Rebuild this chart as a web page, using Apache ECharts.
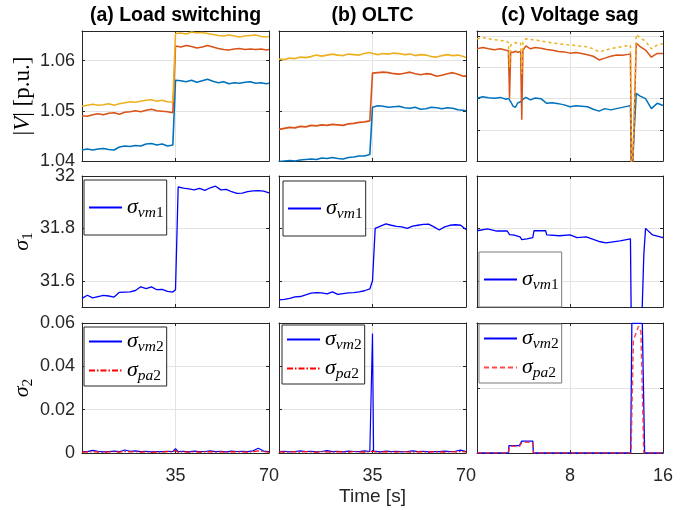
<!DOCTYPE html>
<html>
<head>
<meta charset="utf-8">
<script src="https://cdn.jsdelivr.net/npm/echarts@6.0.0/dist/echarts.min.js"></script>
<style>
  html, body { margin: 0; padding: 0; background: #fff; }
  #main { width: 694px; height: 510px; }
</style>
</head>
<body>
<div id="main"></div>
<script>
// ---- data ----
// time bases, columns (a) and (b)
var tAB = [0,2,4,6,8,10,12,14,16,18,20,22,24,26,28,30,32,34,35,37,39,41,43,45,47,49,51,53,55,57,59,61,63,65,67,69,70];
var tS1 = [0,2,4,6,8,10,12,14,16,18,20,22,24,26,28,30,32,34,35,36,38,40,42,44,46,48,50,52,54,56,58,60,62,64,66,68,70];
var tS2 = [0,2,4,6,8,10,12,14,16,18,20,22,24,26,28,30,32,34,34.6,35,35.4,36,38,40,42,44,46,48,50,52,54,56,58,60,62,64,66,68,70];

// (a) Load switching, |V|
var vBlueA = [1.0422,1.0424,1.0422,1.0424,1.0425,1.0423,1.0422,1.0428,1.0430,1.0429,1.0431,1.0430,1.0434,1.0435,1.0432,1.0434,1.0430,1.0432,
              1.0561,1.0560,1.0558,1.0561,1.0557,1.0560,1.0563,1.0559,1.0556,1.0558,1.0554,1.0556,1.0555,1.0557,1.0558,1.0555,1.0556,1.0554,1.0555];
var vRedA = [1.0490,1.0489,1.0492,1.0494,1.0492,1.0495,1.0496,1.0493,1.0497,1.0498,1.0500,1.0498,1.0501,1.0503,1.0500,1.0499,1.0498,1.0496,
             1.0629,1.0627,1.0630,1.0628,1.0625,1.0627,1.0630,1.0627,1.0624,1.0622,1.0621,1.0623,1.0624,1.0622,1.0623,1.0622,1.0623,1.0621,1.0622];
var vYelA = [1.0509,1.0511,1.0513,1.0511,1.0512,1.0514,1.0511,1.0514,1.0516,1.0518,1.0517,1.0519,1.0521,1.0522,1.0519,1.0521,1.0518,1.0517,
             1.0654,1.0655,1.0653,1.0657,1.0655,1.0656,1.0654,1.0652,1.0650,1.0649,1.0651,1.0649,1.0647,1.0649,1.0650,1.0651,1.0648,1.0647,1.0648];
// (b) OLTC, |V|
var vBlueB = [1.0399,1.0400,1.0401,1.0400,1.0402,1.0403,1.0404,1.0403,1.0406,1.0405,1.0407,1.0405,1.0404,1.0407,1.0408,1.0410,1.0410,1.0413,
              1.0507,1.0510,1.0509,1.0507,1.0508,1.0509,1.0506,1.0505,1.0507,1.0503,1.0504,1.0507,1.0506,1.0504,1.0506,1.0505,1.0502,1.0501,1.0500];
var vRedB = [1.0463,1.0465,1.0467,1.0466,1.0469,1.0468,1.0471,1.0470,1.0472,1.0471,1.0473,1.0472,1.0471,1.0474,1.0475,1.0477,1.0478,1.0480,
             1.0575,1.0576,1.0577,1.0576,1.0574,1.0573,1.0575,1.0577,1.0574,1.0572,1.0574,1.0573,1.0569,1.0571,1.0574,1.0576,1.0573,1.0569,1.0569];
var vYelB = [1.0603,1.0602,1.0605,1.0604,1.0607,1.0606,1.0608,1.0611,1.0609,1.0611,1.0613,1.0611,1.0610,1.0613,1.0612,1.0611,1.0614,1.0616,
             1.0614,1.0612,1.0614,1.0613,1.0615,1.0614,1.0612,1.0613,1.0610,1.0612,1.0611,1.0608,1.0607,1.0610,1.0612,1.0610,1.0611,1.0608,1.0606];

// sigma_1
var s1A = [31.533,31.545,31.535,31.540,31.544,31.542,31.538,31.556,31.557,31.558,31.563,31.577,31.570,31.577,31.566,31.567,31.560,31.557,31.566,
           31.958,31.954,31.951,31.947,31.953,31.945,31.955,31.961,31.947,31.949,31.940,31.934,31.935,31.940,31.943,31.944,31.942,31.936];
var s1B = [31.527,31.529,31.533,31.539,31.540,31.546,31.553,31.555,31.554,31.550,31.558,31.548,31.551,31.554,31.555,31.558,31.562,31.569,31.600,
           31.800,31.809,31.817,31.812,31.808,31.806,31.800,31.809,31.812,31.815,31.816,31.806,31.794,31.806,31.812,31.814,31.812,31.796];

// sigma_2
var s2vmA = [.0007,.0006,.0012,.0008,.0005,.0007,.0009,.0006,.0014,.0008,.0010,.0006,.0008,.0005,.0007,.0006,.0008,.0007,
             .0009,.0020,.0012,
             .0006,.0008,.0005,.0009,.0006,.0007,.0010,.0006,.0008,.0005,.0009,.0007,.0008,.0006,.0010,.0022,.0009,.0006];
var s2paA = [.0004,.0005,.0006,.0004,.0003,.0005,.0006,.0004,.0007,.0005,.0006,.0004,.0005,.0003,.0005,.0004,.0006,.0005,
             .0006,.0012,.0008,
             .0004,.0005,.0004,.0006,.0004,.0005,.0006,.0004,.0005,.0004,.0006,.0005,.0005,.0004,.0006,.0010,.0006,.0004];
var s2vmB = [.0006,.0008,.0005,.0007,.0010,.0006,.0008,.0005,.0007,.0011,.0006,.0008,.0005,.0009,.0007,.0006,.0010,.0007,
             .0009,.0552,.0009,
             .0007,.0005,.0009,.0006,.0008,.0005,.0007,.0010,.0006,.0008,.0005,.0007,.0006,.0009,.0006,.0008,.0013,.0007];
var s2paB = [.0005,.0004,.0006,.0005,.0004,.0007,.0005,.0004,.0006,.0005,.0004,.0006,.0005,.0004,.0007,.0005,.0004,.0006,
             .0006,.0008,.0006,
             .0005,.0004,.0006,.0005,.0004,.0007,.0005,.0004,.0006,.0005,.0004,.0006,.0005,.0004,.0006,.0005,.0007,.0005];

// (c) Voltage sag
var tC1 = [0,0.5,1,1.5,2,2.5,2.7,2.8,2.9,3.1,3.3,3.5,3.75,3.85,3.95,4.2,4.6,5,5.5,6,6.5,7,7.5,8,8.5,9,9.5,10,10.5,11,11.5,12,12.5,13,13.2,13.3,13.4,13.5,13.7,14,14.5,15,15.5,16];
var vBlueC = [1.0501,1.0506,1.0503,1.0501,1.0504,1.0498,1.0501,1.0496,1.0490,1.0476,1.0472,1.0486,1.0490,1.0494,1.0498,1.0504,1.0496,1.0502,1.0500,1.0485,1.0487,1.0484,
              1.0480,1.0474,1.0477,1.0476,1.0474,1.0466,1.0460,1.0468,1.0464,1.0468,1.0472,1.0476,1.0478,1.0200,1.0200,1.0380,1.0517,1.0509,1.0500,1.0468,1.0485,1.0478];
var vRedC = [1.0660,1.0664,1.0660,1.0657,1.0660,1.0655,1.0654,1.0501,1.0650,1.0648,1.0652,1.0649,1.0651,1.0432,1.0655,1.0669,1.0660,1.0664,1.0662,1.0658,1.0655,1.0651,
             1.0650,1.0646,1.0648,1.0645,1.0641,1.0636,1.0624,1.0630,1.0636,1.0640,1.0639,1.0642,1.0644,1.0200,1.0200,1.0400,1.0678,1.0668,1.0656,1.0633,1.0645,1.0645];
var vYelC = [1.0692,1.0696,1.0692,1.0689,1.0687,1.0685,1.0680,1.0600,1.0672,1.0676,1.0680,1.0676,1.0678,1.0580,1.0680,1.0692,1.0690,1.0689,1.0685,1.0682,1.0679,1.0676,
             1.0674,1.0672,1.0670,1.0668,1.0666,1.0660,1.0650,1.0655,1.0660,1.0664,1.0667,1.0670,1.0671,1.0200,1.0200,1.0420,1.0706,1.0696,1.0684,1.0660,1.0672,1.0676];
var tC2 = [0,0.9,1.7,2.6,2.8,3.2,3.7,3.85,4.0,4.3,4.8,4.9,5.9,6.0,7.1,8.0,8.6,9.4,10.0,10.6,11.1,12.3,13.2,13.3,14.0,14.2,14.35,14.5,15.1,16];
var s1C = [31.791,31.798,31.790,31.790,31.776,31.774,31.768,31.757,31.752,31.760,31.765,31.791,31.791,31.775,31.772,
           31.775,31.765,31.768,31.758,31.749,31.745,31.752,31.760,31.300,31.300,31.480,31.700,31.800,31.775,31.765];
var tC3v = [0,2.7,2.75,3.65,3.75,3.85,4.8,4.85,13.22,13.32,14.22,14.42,16];
var s2vmC = [0,0,0.0034,0.0034,0.0027,0.0055,0.0055,0,0,0.0598,0.0598,0,0];
var tC3p = [0,2.72,2.78,3.65,3.75,3.88,4.78,4.85,13.25,13.45,13.9,14.1,14.35,16];
var s2paC = [0,0,0.0031,0.0031,0.0025,0.0050,0.0050,0,0,0.052,0.0585,0.056,0,0];

// axis limits / ticks
var xLimAB = [0, 70], xStepAB = 35;
var xLimC = [0, 16], xStepC = 8;
var vLimAB = [1.04, 1.0659], vStepAB = 0.01;
var vLimC = [1.03, 1.0717], vStepC = 0.01;
var s1Lim = [31.5, 32], s1Ticks = [31.6, 31.8, 32];
var s2LimAB = [0, 0.06], s2StepAB = 0.02;
var s2LimC = [0, 0.06], s2StepC = 0.03;
var titles = ['(a) Load switching', '(b) OLTC', '(c) Voltage sag'];

// ---- styling ----
var AX = '#262626', GRIDC = '#e3e3e3';
var SANS = "'Liberation Sans', Arial, Helvetica, sans-serif";
var SERIF = "'Liberation Serif', 'DejaVu Serif', serif";
var C_BLUE = '#0072BD', C_RED = '#D95319', C_YEL = '#EDB120';

var cols = [[82, 187], [279, 187], [477, 186]];
var rows = [[31, 130], [176, 131], [323, 130]];

var RICH = {
    s: { fontFamily: SERIF, fontStyle: 'italic', fontSize: 22, lineHeight: 24, color: '#000' },
    sub: { fontFamily: SERIF, fontStyle: 'italic', fontSize: 15.5, lineHeight: 24, padding: [11, 0, 0, 0], color: '#000' },
    subn: { fontFamily: SERIF, fontSize: 15.5, lineHeight: 24, padding: [11, 0, 0, 0], color: '#000' },
    n: { fontFamily: SERIF, fontSize: 23, lineHeight: 26, color: '#000' },
    i: { fontFamily: SERIF, fontStyle: 'italic', fontSize: 23, lineHeight: 26, color: '#000' }
};

function sigmaText(name) {
    // 'vm1a' -> sigma_{vm1}
    return '{s|σ}{sub|' + name.slice(0, 2) + '}{subn|' + name.charAt(2) + '}';
}

function buildAxis(dim, g, lim, step, custom, showLab, showMax) {
    var main = {
        type: 'value', gridIndex: g, min: lim[0], max: lim[1],
        position: dim === 'x' ? 'bottom' : 'left',
        axisLine: { show: true, onZero: false, lineStyle: { color: AX, width: 1 } },
        axisTick: { show: true, inside: true, length: 3, lineStyle: { color: AX } },
        axisLabel: {
            show: showLab, color: AX, fontFamily: SANS, fontSize: 18,
            margin: dim === 'x' ? 14 : 7,
            showMinLabel: dim === 'y', showMaxLabel: showMax
        },
        splitLine: { show: true, lineStyle: { color: GRIDC, width: 1 } }
    };
    if (step) main.interval = step;
    if (custom) {
        main.axisTick.customValues = custom;
        main.axisLabel.customValues = custom;
    }
    var mirror = JSON.parse(JSON.stringify(main));
    mirror.position = dim === 'x' ? 'top' : 'right';
    mirror.axisLabel = { show: false };
    if (custom) mirror.axisLabel.customValues = custom;
    mirror.splitLine = { show: false };
    return [main, mirror];
}

var grid = [], xAxis = [], yAxis = [];
for (var g = 0; g < 9; g++) {
    var r = Math.floor(g / 3), c = g % 3;
    grid.push({
        left: cols[c][0], width: cols[c][1], top: rows[r][0], height: rows[r][1],
        containLabel: false, outerBoundsMode: 'none', show: false
    });
    var xa = c < 2 ? buildAxis('x', g, xLimAB, xStepAB, null, r === 2, true)
                   : buildAxis('x', g, xLimC, xStepC, null, r === 2, true);
    var ya;
    if (r === 0) ya = c < 2 ? buildAxis('y', g, vLimAB, vStepAB, null, c === 0, false)
                            : buildAxis('y', g, vLimC, vStepC, null, false, false);
    else if (r === 1) ya = buildAxis('y', g, s1Lim, null, s1Ticks, c === 0, true);
    else ya = c < 2 ? buildAxis('y', g, s2LimAB, s2StepAB, null, c === 0, true)
                    : buildAxis('y', g, s2LimC, s2StepC, null, false, true);
    if (c === 0) {
        ya[0].name = ['{n||}{i|V}{n|| [p.u.]}', '{s|σ}{subn|1}', '{s|σ}{subn|2}'][r];
        ya[0].nameLocation = 'middle';
        ya[0].nameGap = r === 0 ? 46 : 44;
        ya[0].nameRotate = 90;
        ya[0].nameTextStyle = { rich: RICH };
    }
    if (g === 7) {
        xa[0].name = 'Time [s]';
        xa[0].nameLocation = 'middle';
        xa[0].nameGap = 34;
        xa[0].nameTextStyle = { color: AX, fontFamily: SANS, fontSize: 19 };
    }
    xAxis.push(xa[0], xa[1]);
    yAxis.push(ya[0], ya[1]);
}

function line(name, g, t, v, color, width, type, opacity) {
    return {
        type: 'line', name: name, xAxisIndex: 2 * g, yAxisIndex: 2 * g,
        data: t.map(function (x, i) { return [x, v[i]]; }),
        symbol: 'none', showSymbol: false, clip: true, silent: true, animation: false,
        lineStyle: { color: color, width: width, type: type || 'solid', opacity: opacity == null ? 1 : opacity },
        itemStyle: { color: color }
    };
}

var DASHDOT = [6, 2, 1.5, 2];
var series = [
    line('Va1', 0, tAB, vBlueA, C_BLUE, 1.6),
    line('Va2', 0, tAB, vRedA, C_RED, 1.6),
    line('Va3', 0, tAB, vYelA, C_YEL, 1.6),
    line('Vb1', 1, tAB, vBlueB, C_BLUE, 1.6),
    line('Vb2', 1, tAB, vRedB, C_RED, 1.6),
    line('Vb3', 1, tAB, vYelB, C_YEL, 1.6),
    line('Vc1', 2, tC1, vBlueC, C_BLUE, 1.5),
    line('Vc2', 2, tC1, vRedC, C_RED, 1.5),
    line('Vc3', 2, tC1, vYelC, C_YEL, 1.5, [3, 3]),
    line('vm1a', 3, tS1, s1A, '#0000FF', 1.3),
    line('vm1b', 4, tS1, s1B, '#0000FF', 1.3),
    line('vm1c', 5, tC2, s1C, '#0000FF', 1.3),
    line('vm2a', 6, tS2, s2vmA, '#0000FF', 1.2),
    line('pa2a', 6, tS2, s2paA, '#FF0000', 1.2, DASHDOT),
    line('vm2b', 7, tS2, s2vmB, '#0000FF', 1.2),
    line('pa2b', 7, tS2, s2paB, '#FF0000', 1.2, DASHDOT),
    line('vm2c', 8, tC3v, s2vmC, '#0000FF', 1.3),
    line('pa2c', 8, tC3p, s2paC, '#FF2a2a', 1.5, [5, 3], 0.85)
];

function legendBox(left, top, names, border) {
    var single = names.length === 1;
    return {
        show: true, orient: 'vertical', left: left, top: top, data: names,
        selectedMode: false, backgroundColor: '#fff',
        borderColor: border, borderWidth: 1, borderRadius: 0,
        padding: single ? [14, 3, 14, 4] : [1, 3, 2, 4],
        itemWidth: 33, itemHeight: 12, itemGap: 2,
        itemStyle: { opacity: 0 },
        formatter: sigmaText,
        textStyle: { color: '#000', rich: RICH }
    };
}

var legend = [
    legendBox(84, 180, ['vm1a'], AX),
    legendBox(283, 181, ['vm1b'], AX),
    legendBox(479, 252, ['vm1c'], '#7a7a7a'),
    legendBox(84, 327, ['vm2a', 'pa2a'], AX),
    legendBox(282, 325, ['vm2b', 'pa2b'], AX),
    legendBox(479, 324, ['vm2c', 'pa2c'], '#7a7a7a')
];

var graphic = titles.map(function (txt, c) {
    return {
        type: 'text', x: cols[c][0] + cols[c][1] / 2, y: 16, silent: true,
        style: { text: txt, fill: '#000', font: 'bold 19.5px ' + SANS, align: 'center', verticalAlign: 'middle' }
    };
});

var chart = echarts.init(document.getElementById('main'), null, { renderer: 'canvas' });
chart.setOption({
    backgroundColor: '#fff',
    animation: false,
    grid: grid,
    xAxis: xAxis,
    yAxis: yAxis,
    legend: legend,
    graphic: graphic,
    series: series
});
</script>
</body>
</html>
